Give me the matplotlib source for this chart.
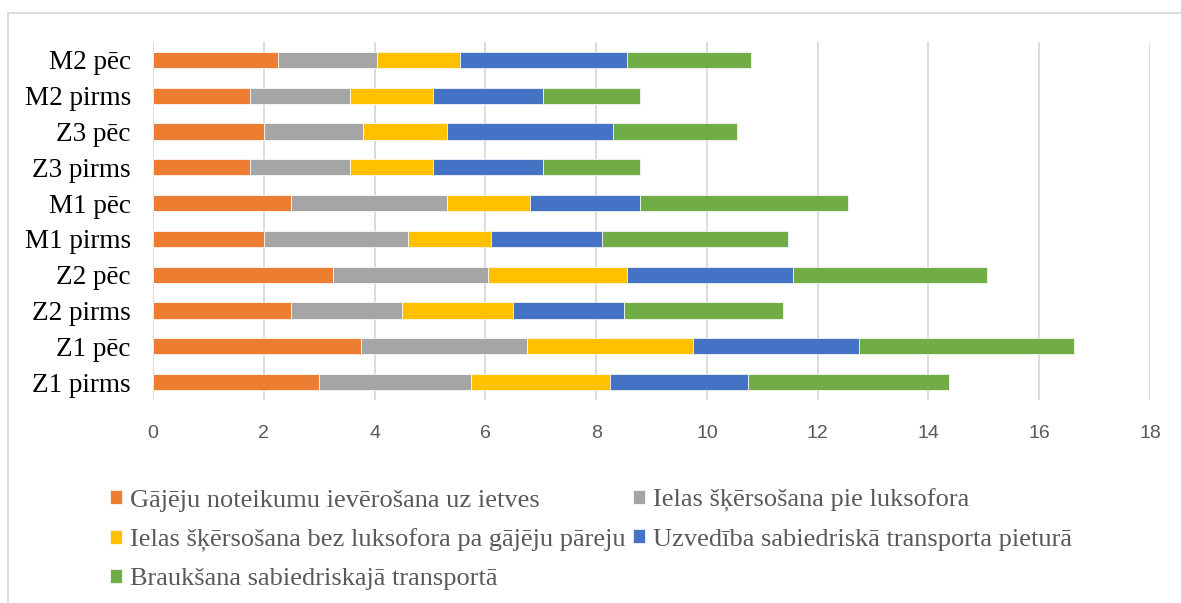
import matplotlib.pyplot as plt
from matplotlib.patches import Rectangle

# categories, bottom to top
groups = ['Z1 pirms', 'Z1 pēc', 'Z2 pirms', 'Z2 pēc', 'M1 pirms',
          'M1 pēc', 'Z3 pirms', 'Z3 pēc', 'M2 pirms', 'M2 pēc']

series_names = [
    'Gājēju noteikumu ievērošana uz ietves',
    'Ielas šķērsošana pie luksofora',
    'Ielas šķērsošana bez luksofora pa gājēju pāreju',
    'Uzvedība sabiedriskā transporta pieturā',
    'Braukšana sabiedriskajā transportā',
]

gajeju = [3.0, 3.75, 2.5, 3.25, 2.0, 2.5, 1.75, 2.0, 1.75, 2.25]
ar_luksoforu = [2.75, 3.0, 2.0, 2.8, 2.6, 2.8, 1.8, 1.8, 1.8, 1.8]
bez_luksofora = [2.5, 3.0, 2.0, 2.5, 1.5, 1.5, 1.5, 1.5, 1.5, 1.5]
pietura = [2.5, 3.0, 2.0, 3.0, 2.0, 2.0, 2.0, 3.0, 2.0, 3.0]
braukshana = [3.63, 3.88, 2.88, 3.5, 3.36, 3.75, 1.75, 2.25, 1.75, 2.25]

values = [gajeju, ar_luksoforu, bez_luksofora, pietura, braukshana]
colors = ['#ED7D31', '#A5A5A5', '#FFC000', '#4472C4', '#70AD47']

fig = plt.figure(figsize=(11.81, 6.03), dpi=100)
ax = fig.add_axes([153 / 1181, 1 - 400 / 603, (1150 - 153) / 1181, 358 / 603])

# chart frame
fig.patches.append(Rectangle((8 / 1181, -0.05), 1.2, 1 - 13 / 603 + 0.05,
                             transform=fig.transFigure, fill=False,
                             edgecolor='#d9d9d9', linewidth=1.3))

ypos = list(range(len(groups)))
left = [0.0] * len(groups)
handles = []
for vals, name, col in zip(values, series_names, colors):
    b = ax.barh(ypos, vals, left=left, height=0.45, color=col,
                edgecolor='white', linewidth=0.5, label=name, zorder=3)
    handles.append(b)
    left = [l + v for l, v in zip(left, vals)]

ax.set_xlim(0, 18)
ax.set_ylim(-0.5, len(groups) - 0.5)
ax.set_xticks(range(0, 19, 2))
ax.set_yticks(ypos)
ax.set_yticklabels(groups, fontfamily='Liberation Serif', fontsize=19.5, color='black')
for t in ax.get_xticklabels():
    t.set_fontfamily('Liberation Sans')
    t.set_fontsize(14)
    t.set_color('#595959')
ax.tick_params(length=0, axis='both')
ax.tick_params(axis='x', pad=18)
ax.tick_params(axis='y', pad=16)
ax.grid(axis='x', color='#d9d9d9', linewidth=1.3, zorder=0)
for s in ax.spines.values():
    s.set_visible(False)

# row-major legend order for 2 columns
order = [0, 2, 4, 1, 3]
leg = fig.legend([handles[i] for i in order], [series_names[i] for i in order],
                 loc='upper left', bbox_to_anchor=(86 / 1181, 1 - 465 / 603),
                 ncol=2, frameon=False, handlelength=0.45, handleheight=0.45,
                 handletextpad=0.3, columnspacing=0.3, labelspacing=0.62,
                 prop={'family': 'Liberation Serif', 'size': 19})
for t in leg.get_texts():
    t.set_color('#595959')

fig.savefig('out.png', dpi=100)
